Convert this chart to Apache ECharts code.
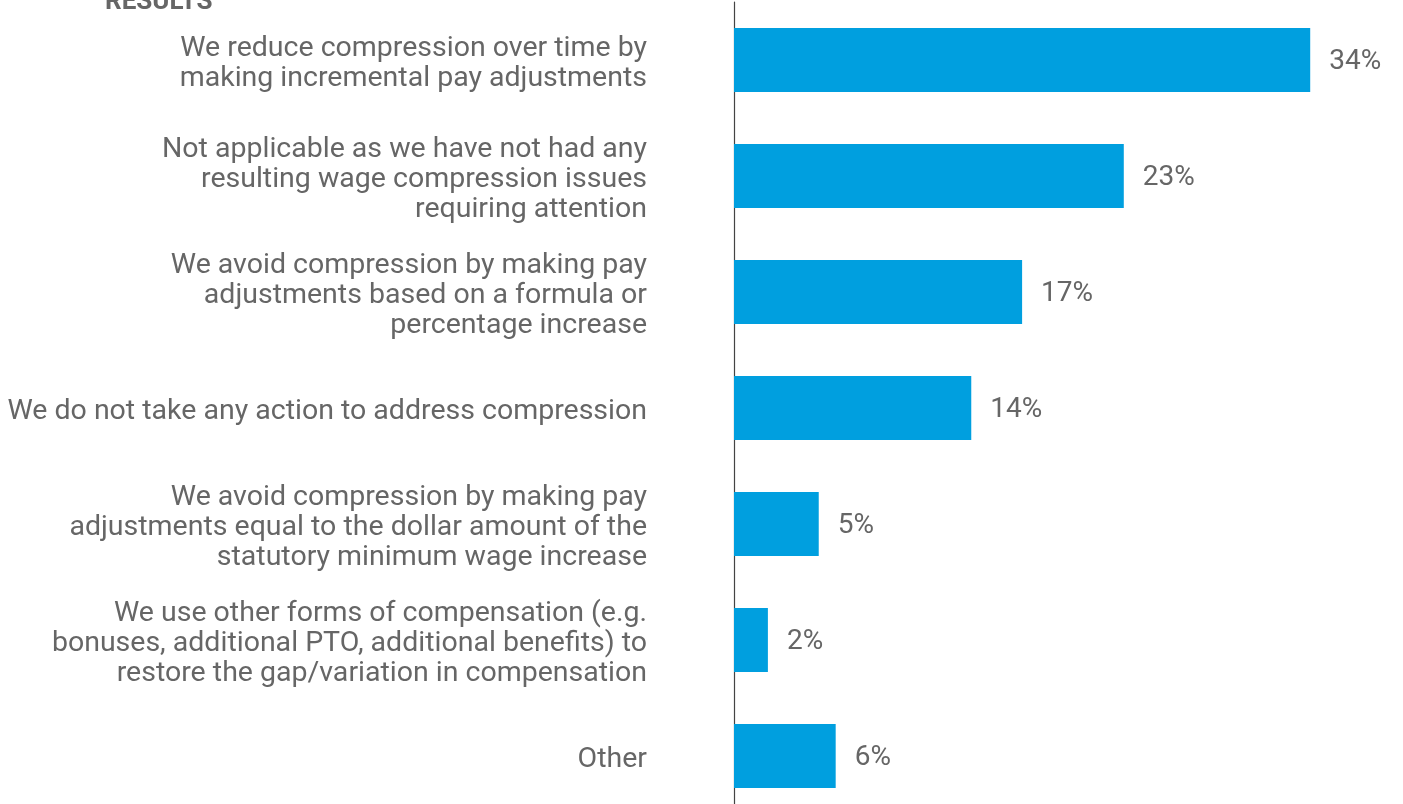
<!DOCTYPE html>
<html>
<head>
<meta charset="utf-8">
<script src="https://cdn.jsdelivr.net/npm/echarts@6/dist/echarts.min.js"></script>
<style>
  html, body { margin: 0; padding: 0; background: #fff; overflow: hidden; }
  /* the plot runs a little past the bottom edge of the window */
  #chart { width: 1403px; height: 816px; }
</style>
</head>
<body>
<div id="chart"></div>
<script>
// Survey responses on handling wage compression (share of respondents, %)
const categories = [
  'We reduce compression over time by\nmaking incremental pay adjustments',
  'Not applicable as we have not had any\nresulting wage compression issues\nrequiring attention',
  'We avoid compression by making pay\nadjustments based on a formula or\npercentage increase',
  'We do not take any action to address compression',
  'We avoid compression by making pay\nadjustments equal to the dollar amount of the\nstatutory minimum wage increase',
  'We use other forms of compensation (e.g.\nbonuses, additional PTO, additional benefits) to\nrestore the gap/variation in compensation',
  'Other'
];
const values = [34, 23, 17, 14, 5, 2, 6];
const heading = 'RESULTS';

const FONT = 'Roboto';
const TEXT = '#666666';

const chart = echarts.init(document.getElementById('chart'), null, { renderer: 'canvas' });
chart.setOption({
  animation: false,
  graphic: [{
    type: 'text',
    left: 105,
    top: -11,
    style: { text: heading, font: 'bold 26px ' + FONT, fill: TEXT }
  }],
  grid: { left: 734, right: 25, top: 2, bottom: 2, containLabel: false },
  xAxis: {
    type: 'value', min: 0, max: 38,
    show: false
  },
  yAxis: {
    type: 'category',
    inverse: true,
    data: categories,
    axisLine: { show: true, lineStyle: { color: '#444', width: 1.2 } },
    axisTick: { show: false },
    axisLabel: { show: false }
  },
  series: [{
    type: 'bar',
    data: values,
    barWidth: 64,
    itemStyle: { color: '#009FDF' },
    label: {
      show: true, position: 'right', distance: 19, offset: [0, 2],
      formatter: '{c}%', fontFamily: FONT, fontSize: 28, color: TEXT
    }
  }, {
    // category captions, anchored at the axis and set slightly below each bar's centre line
    type: 'scatter',
    data: categories.map(() => 0),
    symbolSize: 0,
    silent: true,
    z: 1,
    itemStyle: { opacity: 1 },
    label: {
      show: true, position: 'left', distance: 87, offset: [0, 4],
      formatter: p => categories[p.dataIndex],
      align: 'right',
      fontFamily: FONT, fontSize: 28.5, lineHeight: 30, color: TEXT
    }
  }]
});
</script>
</body>
</html>
